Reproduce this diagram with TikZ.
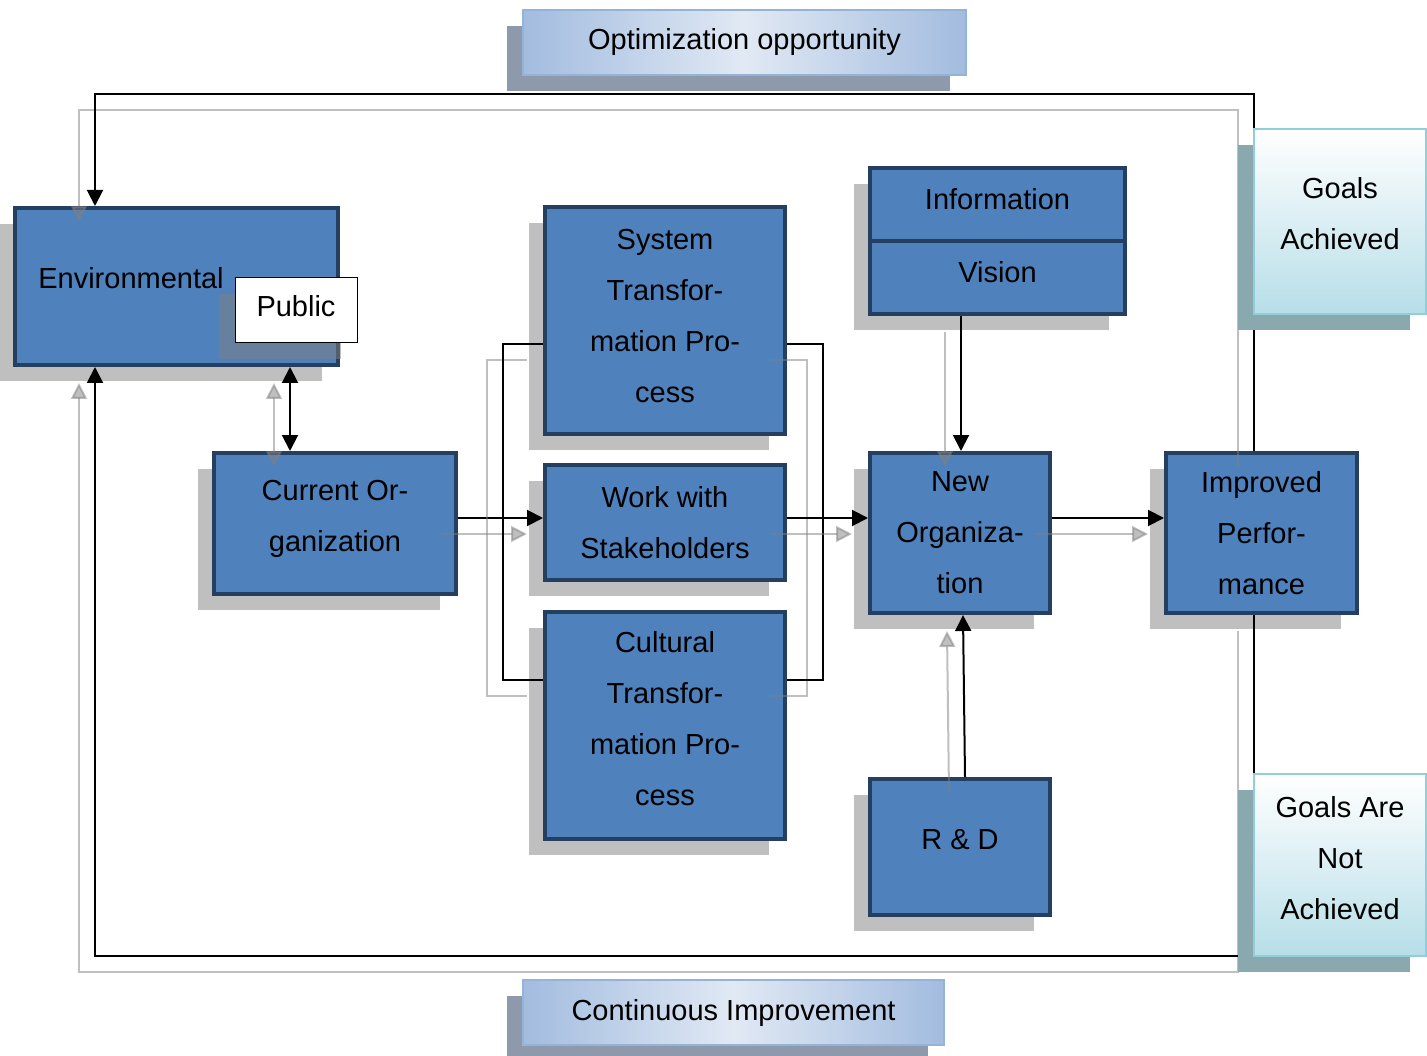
\documentclass[tikz,border=0pt]{standalone}
\usepackage{fontspec}
\setmainfont{Liberation Sans}
\usetikzlibrary{arrows.meta,shadows}

\definecolor{boxblue}{HTML}{4F81BD}
\definecolor{boxedge}{HTML}{243F60}
\definecolor{tabedge}{HTML}{95B3D7}
\definecolor{tabmid}{HTML}{E1E9F4}
\definecolor{tabside}{HTML}{A2BCDF}
\definecolor{tabshade}{HTML}{8E9AAC}
\definecolor{goaledge}{HTML}{92CDDC}
\definecolor{goalfill}{HTML}{B7DEE8}
\definecolor{goalshade}{HTML}{8AA9AE}

% every link is drawn twice: a pale offset copy, then the black line
\newcommand{\twin}[2][]{%
  \draw[ghost,#1] #2;
  \draw[link,#1] #2;}

\begin{document}
\begin{tikzpicture}[
  x=1pt, y=-1pt,
  every node/.style={font=\fontsize{29}{51}\selectfont, align=center},
  blk/.style 2 args={draw=boxedge, line width=4pt, fill=boxblue, inner sep=0pt,
                     minimum width=#1pt, minimum height=#2pt,
                     drop shadow={shadow xshift=-16pt, shadow yshift=-16pt}},
  tab/.style 2 args={draw=tabedge, line width=1.5pt, left color=tabside,
                     right color=tabside, middle color=tabmid, inner sep=0pt,
                     minimum width=#1pt, minimum height=#2pt,
                     drop shadow={shadow xshift=-16pt, shadow yshift=-16pt,
                                  fill=tabshade, opacity=1}},
  goal/.style={draw=goaledge, line width=1.5pt, top color=white,
               bottom color=goalfill, inner sep=0pt,
               minimum width=172pt, minimum height=#1pt,
               drop shadow={shadow xshift=-16pt, shadow yshift=-16pt,
                            fill=goalshade, opacity=1}},
  lift/.style={text depth=#1pt},
  arr/.style={-{Triangle[length=16pt,width=16pt]}},
  arrs/.style={{Triangle[length=16pt,width=16pt]}-{Triangle[length=16pt,width=16pt]}},
  link/.style={draw=black, line width=2pt},
  ghost/.style={draw=gray, opacity=.5, line width=2pt,
                transform canvas={shift={(-16pt,-16pt)}}}
]
  \useasboundingbox (0,0) rectangle (1427,1056);

  % Ausgangslage
  \node[blk={323}{157}] (env) at (176.5,286.5) {};
  \node (envtitle) at (131,278) {Environmental};
  \node[draw=black, line width=1pt, fill=white, inner sep=0pt,
        minimum width=122pt, minimum height=65pt, lift=10,
        drop shadow={shadow xshift=-16pt, shadow yshift=-16pt}]
        (public) at (296,310.5) {Public};
  \node[blk={242}{141}, lift=16] (cur) at (335,523.5) {Current Or-\\ganization};

  % Veraenderungsprozesse
  \node[blk={240}{227}, lift=10] (sys)  at (665,320.5) {System\\Transfor-\\mation Pro-\\cess};
  \node[blk={240}{115}] (work) at (665,522.5) {Work with\\Stakeholders};
  \node[blk={240}{227}, lift=14] (cult) at (665,725.5) {Cultural\\Transfor-\\mation Pro-\\cess};

  % Ergebnis
  \node[blk={255}{73}, lift=12] (info)   at (997.5,204.5) {Information};
  \node[blk={255}{73}, lift=12] (vision) at (997.5,277.5) {Vision};
  \node[blk={180}{160}] (neworg) at (960,533) {New\\Organiza-\\tion};
  \node[blk={180}{136}, lift=16] (rnd)    at (960,847) {R \& D};
  \node[blk={191}{160}] (impr)   at (1261.5,533) {Improved\\Perfor-\\mance};

  \node[tab={443}{65}] (opt)  at (744.5,42.5)  {Optimization opportunity};
  \node[tab={421}{65}] (cont) at (733.5,1012.5) {Continuous Improvement};

  % Rueckkopplung
  \coordinate (topturn) at (95,94);
  \coordinate (botturn) at (95,956);
  \twin[arr]{([xshift=-7.5pt]impr.north) |- (topturn) -- ([xshift=-81.5pt]env.north)}
  \twin[arr]{([xshift=-7.5pt]impr.south) |- (botturn) -- ([xshift=-81.5pt]env.south)}
  \twin[arrs]{([xshift=113.5pt]env.south) -- ([xshift=-45pt]cur.north)}

  % Verbindungen
  \twin[arr]{([yshift=5.5pt]cur.east) -- ([yshift=4.5pt]work.west)}
  \twin{([yshift=-23.5pt]sys.west) -- ++(-40,0) |- ([yshift=45.5pt]cult.west)}
  \twin{([yshift=-23.5pt]sys.east) -- ++(36,0) |- ([yshift=45.5pt]cult.east)}
  \twin[arr]{([yshift=4.5pt]work.east) -- ([yshift=15pt]neworg.west)}
  \twin[arr]{([yshift=15pt]neworg.east) -- ([yshift=15pt]impr.west)}
  \twin[arr]{([xshift=-36.5pt]vision.south) -- ([xshift=1pt]neworg.north)}
  \twin[arr]{([xshift=5pt]rnd.north) -- ([xshift=3pt]neworg.south)}

  % Zielerreichung
  \node[goal=185, lift=16] (goalsyes) at (1340,221.5) {Goals\\Achieved};
  \node[goal=182, lift=14] (goalsno)  at (1340,865)   {Goals Are\\Not\\Achieved};
\end{tikzpicture}
\end{document}
